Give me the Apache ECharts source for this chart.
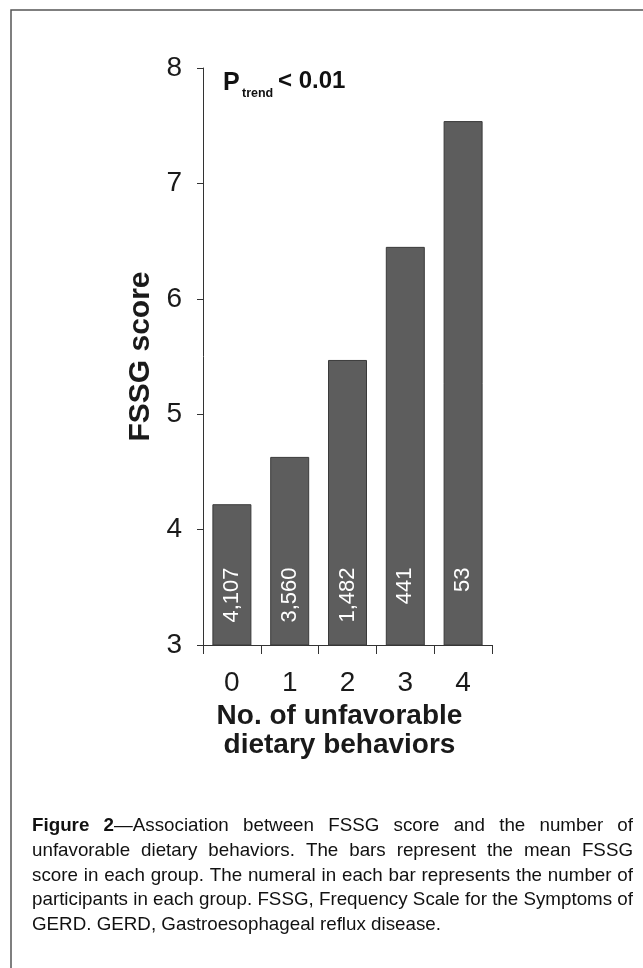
<!DOCTYPE html>
<html><head><meta charset="utf-8">
<script src="https://cdn.jsdelivr.net/npm/echarts@6/dist/echarts.min.js"></script>
<style>html,body{margin:0;padding:0;background:#fff}#c{width:643px;height:968px}</style>
</head><body><div id="c"></div>
<script>
// ---- data ----
const categories = ['0', '1', '2', '3', '4'];
const meanScores = [4.22, 4.63, 5.47, 6.45, 7.54];
const participants = ['4,107', '3,560', '1,482', '441', '53'];
const yMin = 3, yMax = 8, yInterval = 1;
const yAxisTitle = 'FSSG score';
const xAxisTitle = 'No. of unfavorable\ndietary behaviors';
const captionLines = [
  [[['Figure', true]], [['2', true], ['\u2014Association', false]], 'between', 'FSSG', 'score', 'and', 'the', 'number', 'of'],
  'unfavorable dietary behaviors. The bars represent the mean FSSG'.split(' '),
  'score in each group. The numeral in each bar represents the number of'.split(' '),
  'participants in each group. FSSG, Frequency Scale for the Symptoms of'.split(' '),
  'GERD. GERD, Gastroesophageal reflux disease.'.split(' ')
];

// ---- helpers ----
const ctx = document.createElement('canvas').getContext('2d');
function fontExists(name) {
  const t = 'abcdefghijklmnopqrstuvwxyz ABCDEFG 0123456789';
  ctx.font = '20px monospace'; const w1 = ctx.measureText(t).width;
  ctx.font = '20px "' + name + '", monospace'; const w2 = ctx.measureText(t).width;
  return Math.abs(w1 - w2) > 0.5;
}
const narrow = fontExists('Liberation Sans Narrow');
const capFamily = narrow ? '"Liberation Sans Narrow", "Liberation Sans", Arial, sans-serif' : '"Liberation Sans", Arial, sans-serif';
const capFs = 18.5;
const capLeft = 32, capRight = 633, capBase0 = 832, capLead = 24.6;
function rawMeasure(text, bold) {
  ctx.font = (bold ? 'bold ' : '') + capFs + 'px ' + capFamily;
  return ctx.measureText(text).width;
}
// horizontal scale so that the near-natural 4th line fills the caption width
const capScale = (capRight - capLeft) / rawMeasure(captionLines[3].join(' '), false);
function measure(text, bold) { return rawMeasure(text, bold) * capScale; }
const captionEls = [];
captionLines.forEach((line, i) => {
  const words = line.map(w => typeof w === 'string' ? [[w, false]] : w);
  const widths = words.map(w => w.reduce((s, r) => s + measure(r[0], r[1]), 0));
  const sum = widths.reduce((a, b) => a + b, 0);
  const last = i === captionLines.length - 1;
  const gap = last ? measure(' ', false) : (capRight - capLeft - sum) / (words.length - 1);
  let x = capLeft;
  const y = capBase0 + i * capLead - 0.31 * capFs;
  words.forEach((w, k) => {
    let xx = x;
    w.forEach(r => {
      captionEls.push({
        type: 'text', x: xx, y: y, scaleX: capScale, silent: true,
        style: { text: r[0], fill: '#111', font: (r[1] ? 'bold ' : '') + capFs + 'px ' + capFamily, align: 'left', verticalAlign: 'middle' }
      });
      xx += measure(r[0], r[1]);
    });
    x += widths[k] + gap;
  });
});

const axisColor = '#333';
const sans = '"Liberation Sans", Arial, Helvetica, sans-serif';
const chart = echarts.init(document.getElementById('c'), null, { renderer: 'canvas' });
chart.setOption({
  backgroundColor: '#fff',
  animation: false,
  grid: { left: 203, right: 151, top: 68, bottom: 323, containLabel: false, outerBoundsMode: 'none' },
  xAxis: {
    type: 'category', data: categories,
    axisLine: { lineStyle: { color: axisColor, width: 1 } },
    axisTick: { show: true, length: 9, lineStyle: { color: axisColor, width: 1 } },
    axisLabel: { margin: 24, fontSize: 28, color: '#1a1a1a', fontFamily: sans },
    name: xAxisTitle, nameLocation: 'middle', nameGap: 53,
    nameTextStyle: { fontSize: 28, fontWeight: 'bold', color: '#1a1a1a', fontFamily: sans, lineHeight: 29, padding: [0, 16, 0, 0] }
  },
  yAxis: {
    type: 'value', min: yMin, max: yMax, interval: yInterval,
    splitLine: { show: false },
    axisLine: { show: true, lineStyle: { color: axisColor, width: 1 } },
    axisTick: { show: true, length: 6, lineStyle: { color: axisColor, width: 1 } },
    axisLabel: { margin: 21, fontSize: 28, color: '#1a1a1a', fontFamily: sans },
    name: yAxisTitle, nameLocation: 'middle', nameGap: 47, nameRotate: 90,
    nameTextStyle: { fontSize: 30, fontWeight: 'bold', color: '#1a1a1a', fontFamily: sans }
  },
  series: [{
    type: 'bar', data: meanScores, barWidth: 39,
    itemStyle: { color: '#5d5d5d', borderColor: '#3a3a3a', borderWidth: 1 },
    label: {
      show: true, position: 'insideBottom', distance: 78, rotate: 90,
      align: 'right', verticalAlign: 'middle',
      formatter: p => participants[p.dataIndex],
      color: '#fff', fontSize: 22, fontFamily: sans
    }
  }],
  graphic: [
    { type: 'polyline', silent: true, shape: { points: [[11, 968], [11, 10], [643, 10]] }, style: { stroke: '#555', lineWidth: 1.5, fill: null } },
    { type: 'text', x: 223, y: 91 - 0.31 * 25, style: { text: 'P', font: 'bold 25px ' + sans, fill: '#111', align: 'left', verticalAlign: 'middle' } },
    { type: 'text', x: 242, y: 97 - 0.31 * 12.5, style: { text: 'trend', font: 'bold 12.5px ' + sans, fill: '#111', align: 'left', verticalAlign: 'middle' } },
    { type: 'text', x: 278, y: 89 - 0.31 * 24, style: { text: '< 0.01', font: 'bold 24px ' + sans, fill: '#111', align: 'left', verticalAlign: 'middle' } }
  ].concat(captionEls)
});
</script></body></html>
